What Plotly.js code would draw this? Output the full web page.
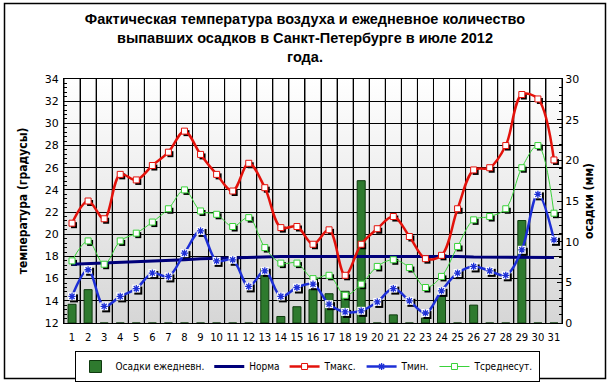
<!DOCTYPE html>
<html><head><meta charset="utf-8">
<script src="https://cdn.plot.ly/plotly-3.0.1.min.js"></script>
<style>
html,body{margin:0;padding:0;background:#fff}
#chart{width:610px;height:384px;position:absolute;left:0;top:0;z-index:1}
#plotbg{position:absolute;left:64px;top:79px;width:498px;height:244px;z-index:0;background:linear-gradient(to bottom,#ffffff 0%,#d6d6d6 100%)}
</style>
</head><body><div id="plotbg"></div><div id="chart"></div>
<script>
// ---- data ----
const days = [1,2,3,4,5,6,7,8,9,10,11,12,13,14,15,16,17,18,19,20,21,22,23,24,25,26,27,28,29,30,31];
const precip = [2.3,4.1,0,0,0,0,0,0,0,0,0,0,6.7,0.8,2.0,4.1,3.6,3.9,17.5,0,1.0,0,0.6,3.3,0,2.2,0,0,12.6,0,0];
const norm = [17.3,17.35,17.4,17.45,17.5,17.55,17.6,17.7,17.8,17.85,17.9,17.95,17.95,18.0,18.0,18.0,18.0,18.0,18.0,18.05,18.05,18.05,18.0,18.0,18.0,17.95,17.95,17.9,17.9,17.9,17.9];
const tmax = [21.0,23.0,21.4,25.4,24.9,26.2,27.4,29.3,27.2,25.4,23.9,26.4,24.2,20.6,20.7,19.1,20.4,16.3,19.1,20.5,21.6,19.8,17.8,18.1,22.3,25.8,26.0,28.0,32.6,32.2,26.7];
const tmin = [14.4,16.8,13.5,14.4,15.1,16.5,16.2,18.3,20.3,17.6,17.7,15.3,16.7,14.4,15.2,15.5,13.7,13.0,13.1,13.9,15.1,14.0,12.9,14.9,16.5,17.1,16.7,16.3,18.6,23.6,19.5];
const tavg = [17.6,19.4,17.3,19.4,20.1,21.1,22.3,24.0,22.1,21.8,20.7,21.5,18.8,17.4,17.4,16.0,16.3,14.5,15.5,17.1,17.7,17.0,15.2,16.2,18.9,21.3,21.6,22.3,26.0,28.0,21.9];
const names = {precip:'Осадки ежедневн.', norm:'Норма', tmax:'Тмакс.', tmin:'Тмин.', tavg:'Тсреднесут.'};
const titleText = 'Фактическая температура воздуха и ежедневное количество<br>выпавших осадков в Санкт-Петербурге в июле 2012<br>года.';
const yTitle = 'температура (градусы)';
const y2Title = 'осадки (мм)';
const precipRange = [0, 30];
const tempRange = [12, 34];

// ---- styling ----
const NARROW = "'Liberation Sans Narrow','DejaVu Sans Condensed','Arial Narrow',sans-serif";
const TITLEF = "'Liberation Sans','Arial',sans-serif";
const TICKF = {family:"'DejaVu Sans',sans-serif", size:10, color:'#000'};
const YTICKF = {family:"'DejaVu Sans',sans-serif", size:11, color:'#000'};
const RED = '#e3120b', BLUE = '#1d2fd6', GREEN = '#3ad23a', NAVY = '#00007a';

// day-boundary grid lines (between categories), derived from the day list
const bx = [], by = [];
[days[0] - 0.5, ...days.map(d => d + 0.5)].forEach(b => { bx.push(b, b, null); by.push(precipRange[0], precipRange[1], null); });

const traces = [];
// bars (base subplot x / y, precipitation axis on the right)
traces.push({type:'bar', x:days, y:precip, xaxis:'x', yaxis:'y', name:names.precip, legendrank:1,
  width:0.5, marker:{color:'#2e7a2e', line:{color:'#0f3a0f', width:1}}, hoverinfo:'skip'});
traces.push({type:'scatter', mode:'lines', x:bx, y:by, xaxis:'x', yaxis:'y', showlegend:false, hoverinfo:'skip',
  line:{color:'#000', width:1}, connectgaps:false});
// marker shadows (drawn through a slightly shifted overlay scale)
[tmax, tavg].forEach(arr => traces.push({type:'scatter', mode:'markers', x:days, y:arr, xaxis:'x2', yaxis:'y3',
  showlegend:false, hoverinfo:'skip', marker:{symbol:'square', size:6, color:'#000'}}));
traces.push({type:'scatter', mode:'markers', x:days, y:tmin, xaxis:'x2', yaxis:'y3',
  showlegend:false, hoverinfo:'skip', marker:{symbol:'square', size:8, color:'#000'}});
// lines (temperature axis y2 on the left)
traces.push({type:'scatter', mode:'lines', x:days, y:norm, xaxis:'x3', yaxis:'y2', name:names.norm, legendrank:2,
  line:{color:NAVY, width:3}});
traces.push({type:'scatter', mode:'lines+markers', x:days, y:tavg, xaxis:'x3', yaxis:'y2', name:names.tavg, legendrank:5,
  line:{color:GREEN, width:1, shape:'spline', smoothing:1},
  marker:{symbol:'square', size:6, color:'#fff', line:{color:GREEN, width:1}}});
traces.push({type:'scatter', mode:'lines+markers', x:days, y:tmax, xaxis:'x3', yaxis:'y2', name:names.tmax, legendrank:3,
  line:{color:RED, width:2.5, shape:'spline', smoothing:1},
  marker:{symbol:'square', size:6, color:'#fff', line:{color:RED, width:1}}});
traces.push({type:'scatter', mode:'lines', x:days, y:tmin, xaxis:'x3', yaxis:'y2', showlegend:false,
  line:{color:BLUE, width:2.5, shape:'spline', smoothing:1}});
traces.push({type:'scatter', mode:'markers', x:days, y:tmin, xaxis:'x3', yaxis:'y2', showlegend:false, hoverinfo:'skip',
  marker:{symbol:'square', size:8, color:'#fff'}});
traces.push({type:'scatter', mode:'markers', x:days, y:tmin, xaxis:'x3', yaxis:'y2', showlegend:false,
  marker:{symbol:'asterisk-open', size:6, color:BLUE, line:{color:BLUE, width:1.3}}});
// legend entry for Tmin
traces.push({type:'scatter', mode:'lines+markers', x:[days[0]], y:[null], xaxis:'x3', yaxis:'y2', name:names.tmin, legendrank:4,
  line:{color:BLUE, width:2.5}, marker:{symbol:'asterisk-open', size:6, color:BLUE, line:{color:BLUE, width:1.3}}});

const L=64, R=48, T=79, B=61, W=610-L-R, H=384-T-B;
const px2x = p => (p - L)/W, py2y = p => (384 - B - p)/H;
const dx = 2/(W/31), dy = 2/(H/22);

const layout = {
  width:610, height:384, margin:{l:L, r:R, t:T, b:B, autoexpand:false},
  paper_bgcolor:'rgba(0,0,0,0)', plot_bgcolor:'rgba(0,0,0,0)',
  title:{text:titleText, font:{family:TITLEF, size:14.5, weight:'bold', color:'#000'}, x:0.5, xref:'container', xanchor:'center',
    y:1-24/384, yref:'container', yanchor:'top'},
  showlegend:true, bargap:0,
  legend:{orientation:'h', x:px2x(307), xanchor:'center', y:py2y(351), yanchor:'top', bordercolor:'#000', borderwidth:1,
    bgcolor:'#fff', font:{family:NARROW, size:10, color:'#000'}, traceorder:'normal'},
  xaxis:{type:'linear', range:[0.5,31.5], tickmode:'linear', tick0:1, dtick:1, showgrid:false, zeroline:false,
    minor:{tick0:0.5, dtick:1, showgrid:true, gridcolor:'#000', gridwidth:1, ticks:''},
    showline:true, linecolor:'#000', linewidth:1, mirror:true,
    ticks:'', tickangle:0, tickfont:TICKF, ticklabelstandoff:5, anchor:'y', automargin:false},
  xaxis2:{type:'linear', overlaying:'x', range:[0.5-dx,31.5-dx], visible:false, anchor:'y3'},
  xaxis3:{type:'linear', overlaying:'x', range:[0.5,31.5], visible:false, anchor:'y2'},
  yaxis:{range:precipRange, side:'right', tick0:0, dtick:5, showgrid:false, zeroline:false, showline:true, linecolor:'#000',
    ticks:'inside', ticklen:5, tickcolor:'#000', tickfont:YTICKF, automargin:false,
    minor:{dtick:1, ticks:'inside', ticklen:3, tickcolor:'#000', showgrid:false},
    title:{text:y2Title, font:{family:NARROW, size:12, weight:'bold', color:'#000'}, standoff:6}},
  yaxis2:{range:tempRange, overlaying:'y', side:'left', anchor:'x', tick0:12, dtick:2, showgrid:true, gridcolor:'#000', gridwidth:1,
    zeroline:false, showline:true, linecolor:'#000', ticks:'inside', ticklen:5, tickcolor:'#000', tickfont:YTICKF, automargin:false,
    ticklabelstandoff:2,
    minor:{dtick:0.4, ticks:'inside', ticklen:3, tickcolor:'#000', showgrid:false},
    title:{text:yTitle, font:{family:NARROW, size:12, weight:'bold', color:'#000'}, standoff:14}},
  yaxis3:{overlaying:'y', range:[tempRange[0]+dy, tempRange[1]+dy], visible:false, anchor:'x2'},
  shapes:[{type:'rect', xref:'paper', yref:'paper', x0:px2x(4.5), x1:px2x(605.5), y0:py2y(378.5), y1:py2y(3.5),
    line:{color:'#000', width:1.5}, fillcolor:'rgba(0,0,0,0)', layer:'above'}]
};
Plotly.newPlot('chart', traces, layout, {displayModeBar:false, staticPlot:true});
</script></body></html>
